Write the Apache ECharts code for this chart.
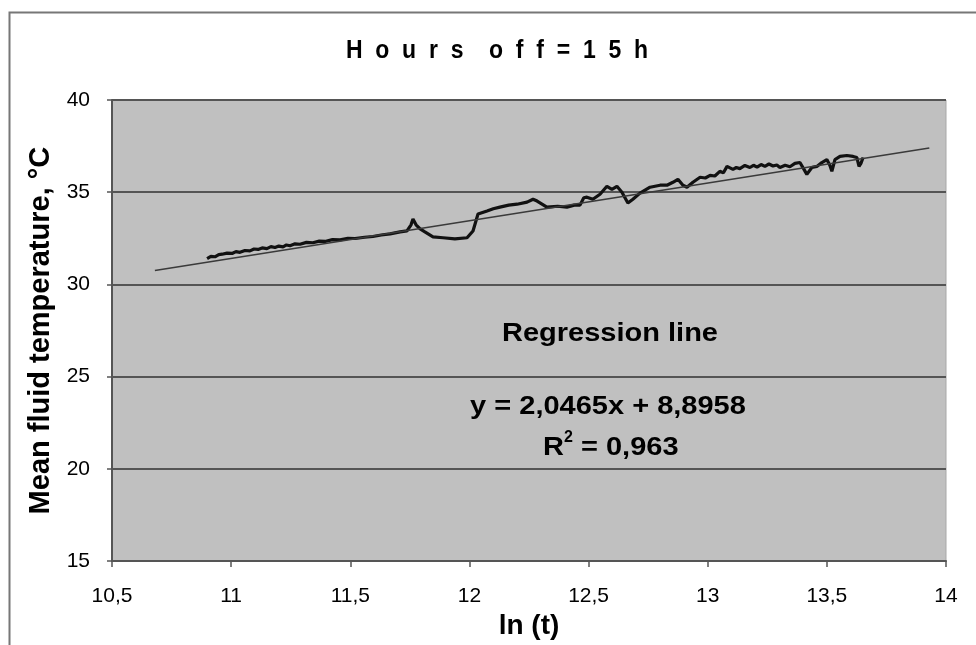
<!DOCTYPE html>
<html><head><meta charset="utf-8">
<script src="https://cdn.jsdelivr.net/npm/echarts@6/dist/echarts.min.js"></script>
<style>html,body{margin:0;padding:0;background:#fff}#c{width:976px;height:645px}</style>
</head><body><div id="c"></div>
<script>
// measured ln(t) values
const lnT = [10.899,10.915,10.932,10.948,10.962,10.983,11.004,11.020,11.037,11.058,11.079,11.096,11.113,11.130,11.150,11.167,11.184,11.200,11.218,11.232,11.247,11.268,11.289,11.316,11.343,11.370,11.394,11.425,11.457,11.490,11.520,11.560,11.595,11.630,11.667,11.709,11.738,11.755,11.763,11.776,11.793,11.813,11.847,11.889,11.939,11.990,12.015,12.036,12.074,12.100,12.128,12.165,12.200,12.242,12.267,12.284,12.325,12.370,12.409,12.440,12.464,12.480,12.493,12.518,12.548,12.577,12.598,12.619,12.640,12.665,12.686,12.716,12.758,12.800,12.829,12.854,12.875,12.896,12.913,12.938,12.968,12.990,13.010,13.030,13.051,13.066,13.081,13.106,13.120,13.135,13.156,13.177,13.192,13.207,13.224,13.240,13.257,13.274,13.290,13.303,13.325,13.345,13.366,13.387,13.404,13.416,13.437,13.458,13.479,13.500,13.513,13.521,13.534,13.555,13.584,13.610,13.626,13.635,13.643,13.652];
// mean fluid temperature, °C
const temp = [31.40,31.52,31.50,31.62,31.64,31.70,31.68,31.78,31.74,31.84,31.82,31.92,31.90,31.98,31.94,32.05,32.00,32.08,32.04,32.14,32.10,32.20,32.18,32.28,32.26,32.35,32.33,32.43,32.42,32.50,32.49,32.56,32.60,32.68,32.74,32.85,32.90,33.23,33.55,33.23,33.01,32.85,32.58,32.53,32.47,32.53,32.90,33.82,33.98,34.10,34.19,34.30,34.35,34.46,34.62,34.52,34.19,34.24,34.19,34.30,34.30,34.70,34.73,34.62,34.89,35.32,35.16,35.32,35.00,34.41,34.62,34.95,35.27,35.38,35.38,35.54,35.70,35.38,35.27,35.54,35.81,35.77,35.91,35.88,36.13,36.06,36.40,36.24,36.34,36.28,36.45,36.34,36.46,36.36,36.50,36.40,36.53,36.42,36.48,36.34,36.46,36.38,36.56,36.61,36.24,35.97,36.34,36.40,36.61,36.77,36.45,36.13,36.77,36.94,36.99,36.94,36.88,36.40,36.56,36.88];
// regression line end points
const regX = [10.68, 13.93];
const regY = [30.75, 37.40];
const xTicks = ['10,5','11','11,5','12','12,5','13','13,5','14'];
const yTicks = ['15','20','25','30','35','40'];

const chart = echarts.init(document.getElementById('c'));
const F = '"Liberation Sans", Arial, sans-serif';
const txt = (t, x, y, size, align, sx) => ({
  type: 'text', x: x, y: y, scaleX: sx, silent: true, z: 10,
  style: {text: t, fontFamily: F, fontSize: size, fontWeight: 'bold', fill: '#000', align: align, verticalAlign: 'middle'}
});
chart.setOption({
  animation: false,
  backgroundColor: '#fff',
  grid: {left: 112, right: 30, top: 100, bottom: 80, show: true, backgroundColor: '#c0c0c0', borderColor: '#a8a8a8', borderWidth: 1},
  xAxis: {
    type: 'value', min: 10.5, max: 14, interval: 0.5,
    name: 'ln (t)', nameLocation: 'middle', nameGap: 48,
    nameTextStyle: {fontFamily: F, fontSize: 28, fontWeight: 'bold', color: '#000'},
    axisLine: {show: true, lineStyle: {color: '#555', width: 2}},
    axisTick: {show: true, length: 6, lineStyle: {color: '#555', width: 1.5}},
    axisLabel: {margin: 25, fontFamily: F, fontSize: 21, color: '#000',
      formatter: v => xTicks[Math.round((v - 10.5) / 0.5)]},
    splitLine: {show: false}
  },
  yAxis: {
    type: 'value', min: 15, max: 40, interval: 5,
    name: 'Mean fluid temperature, °C', nameLocation: 'middle', nameGap: 57,
    nameTextStyle: {fontFamily: F, fontSize: 29, fontWeight: 'bold', color: '#000'},
    axisLine: {show: true, lineStyle: {color: '#555', width: 2}},
    axisTick: {show: true, length: 5, lineStyle: {color: '#555', width: 1.5}},
    axisLabel: {margin: 22, fontFamily: F, fontSize: 21, color: '#000',
      formatter: v => yTicks[Math.round((v - 15) / 5)]},
    splitLine: {show: true, lineStyle: {color: '#555', width: 2}}
  },
  series: [
    {type: 'line', data: lnT.map((x, i) => [x, temp[i]]), showSymbol: false,
     lineStyle: {color: '#111', width: 3.2}, z: 3},
    {type: 'line', data: regX.map((x, i) => [x, regY[i]]), showSymbol: false,
     lineStyle: {color: '#3a3a3a', width: 1.5}, z: 4}
  ],
  graphic: [
    {type: 'rect', left: 7, top: 10, shape: {width: 980, height: 650},
     style: {fill: 'none', stroke: '#777', lineWidth: 2}, silent: true, z: -1},
    txt('H  o  u  r  s    o  f  f  =  1  5  h', 497, 51, 25, 'center', 0.92),
    txt('Regression line', 610, 334, 25, 'center', 1.16),
    txt('y = 2,0465x + 8,8958', 608, 407, 25, 'center', 1.16),
    txt('R', 543, 448, 25, 'left', 1.16),
    txt('2', 564, 438, 16, 'left', 1.0),
    txt('= 0,963', 581, 448, 25, 'left', 1.16)
  ]
});
</script></body></html>
